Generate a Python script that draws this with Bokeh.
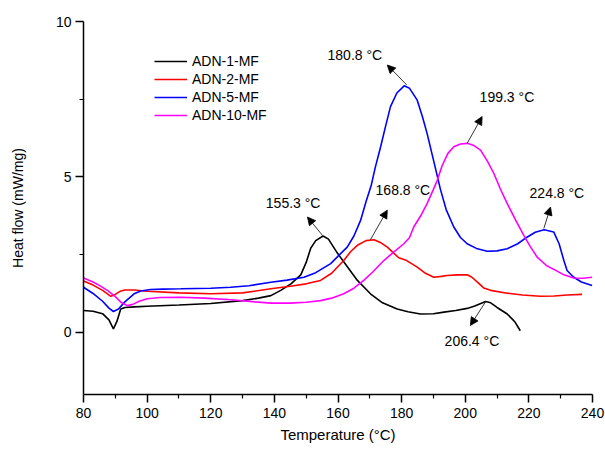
from bokeh.plotting import figure
from bokeh.models import Range1d, FixedTicker, Arrow, NormalHead, Label
from bokeh.embed import file_html
from bokeh.resources import INLINE

FONT = "Liberation Sans"

# ---------------- data ----------------
series_names = ["ADN-1-MF", "ADN-2-MF", "ADN-5-MF", "ADN-10-MF"]
series_colors = ["#000000", "#ff0000", "#0000ff", "#ff00ff"]

adn1_T = [80, 83, 86, 88, 89.4, 90.5, 91.7, 93, 96, 100, 110, 120, 130, 135, 138.9, 142, 145.2,
          148.3, 150, 151.4, 153, 155.3, 157, 159.8, 163, 166.1, 170.2, 174, 178.6, 182, 185.9,
          190, 193.3, 197, 200.6, 203, 206.4, 208, 210, 213.2, 215.5, 217.3]
adn1_v = [0.70, 0.68, 0.60, 0.40, 0.11, 0.35, 0.75, 0.80, 0.82, 0.84, 0.88, 0.93, 1.02, 1.10, 1.18,
          1.35, 1.56, 1.85, 2.25, 2.70, 2.95, 3.10, 3.00, 2.55, 2.10, 1.67, 1.24, 0.95, 0.75, 0.66,
          0.59, 0.60, 0.65, 0.70, 0.77, 0.85, 0.99, 0.95, 0.80, 0.59, 0.35, 0.05]

adn2_T = [80, 83, 86, 88.6, 90, 91.5, 93, 96, 100, 110, 120, 130, 138.9, 145, 150, 154.5, 158,
          161.8, 164, 166.1, 168.8, 171.3, 173.5, 175.5, 177.5, 179.1, 181.2, 183, 184.9, 187.5,
          190.1, 192.5, 194.3, 197.5, 200.6, 202, 204, 205.8, 208, 213.2, 218, 223.6, 228, 232, 236.7]
adn2_v = [1.65, 1.52, 1.35, 1.16, 1.22, 1.32, 1.36, 1.36, 1.32, 1.27, 1.24, 1.27, 1.40, 1.48, 1.56,
          1.67, 1.90, 2.31, 2.60, 2.80, 2.95, 2.98, 2.88, 2.74, 2.55, 2.40, 2.33, 2.22, 2.10, 1.90,
          1.77, 1.80, 1.83, 1.85, 1.85, 1.78, 1.60, 1.43, 1.35, 1.26, 1.20, 1.16, 1.17, 1.20, 1.22]

adn5_T = [80, 83, 86, 88, 89.4, 91, 93, 95.9, 98, 101.1, 105, 110.6, 120, 126.3, 132, 138.9, 144,
          149.3, 153, 157.7, 160.5, 162.9, 165, 167.1, 168.8, 170.5, 171.7, 173.4, 175, 176.5, 178.5,
          180.8, 182.5, 184.9, 186.5, 188.0, 190, 192.2, 194, 196.4, 198.5, 200.6, 203.5, 206.9, 210,
          213.2, 216.5, 219.4, 222, 224.8, 227.8, 229.5, 231.0, 232.0, 234, 236.5, 239.9]
adn5_v = [1.45, 1.25, 1.00, 0.78, 0.67, 0.75, 0.98, 1.24, 1.33, 1.38, 1.39, 1.40, 1.42, 1.45, 1.50,
          1.61, 1.68, 1.77, 1.92, 2.21, 2.50, 2.74, 3.10, 3.60, 4.20, 4.75, 5.30, 5.97, 6.65, 7.26,
          7.70, 7.93, 7.85, 7.47, 6.95, 6.40, 5.55, 4.60, 3.95, 3.39, 3.05, 2.85, 2.70, 2.61, 2.62,
          2.69, 2.85, 3.06, 3.22, 3.30, 3.23, 2.85, 2.31, 1.99, 1.78, 1.62, 1.51]

adn10_T = [80, 83, 85.5, 87.5, 90, 92, 93.8, 95.5, 97.5, 100.1, 104, 110.6, 118, 126.3, 134, 138.9,
           145, 150, 154.5, 158, 161.8, 165, 168.1, 171, 174.4, 177.5, 180.7, 182.5, 183.8, 186, 188,
           190, 191.2, 192.7, 194.5, 196.4, 198.5, 200.6, 202.5, 204.8, 207, 209.0, 211, 213.2, 215.8,
           218.4, 220.5, 222.6, 225.5, 228.9, 231, 234.1, 237, 239.9]
adn10_v = [1.75, 1.62, 1.48, 1.35, 1.15, 0.95, 0.86, 0.90, 1.00, 1.08, 1.12, 1.13, 1.10, 1.05, 0.98,
           0.94, 0.94, 0.97, 1.02, 1.10, 1.24, 1.42, 1.67, 1.95, 2.31, 2.58, 2.85, 3.05, 3.39, 3.75,
           4.14, 4.60, 4.89, 5.35, 5.75, 5.97, 6.06, 6.08, 6.02, 5.86, 5.50, 5.11, 4.62, 4.14, 3.62,
           3.12, 2.75, 2.42, 2.15, 1.97, 1.85, 1.75, 1.74, 1.77]

x_ticks = [80, 100, 120, 140, 160, 180, 200, 220, 240]
x_minor = [90, 110, 130, 150, 170, 190, 210, 230]
y_ticks = [0, 5, 10]
y_minor = [2.5, 7.5]

# peak annotations
ann_text = ["155.3 \u00b0C", "168.8 \u00b0C", "180.8 \u00b0C", "199.3 \u00b0C", "224.8 \u00b0C", "206.4 \u00b0C"]
ann_tail_T = [155.1, 170.2, 181.6, 200.6, 224.7, 206.3]
ann_tail_v = [3.12, 2.98, 7.96, 6.08, 3.34, 0.97]
ann_head_T = [150.4, 175.5, 175.5, 205.3, 226.8, 201.6]
ann_head_v = [3.71, 3.93, 8.60, 6.94, 4.03, 0.22]
ann_lab_T = [145.9, 180.4, 165.3, 213.1, 228.8, 202.1]
ann_lab_v = [4.15, 4.57, 8.93, 7.58, 4.47, -0.27]

# ---------------- figure ----------------
p = figure(width=605, height=450, output_backend="svg", toolbar_location=None,
           x_range=Range1d(80, 240), y_range=Range1d(-2, 10),
           min_border_left=83, min_border_right=13, min_border_top=21, min_border_bottom=56)
p.outline_line_color = None
p.grid.visible = False
p.background_fill_color = "white"
p.border_fill_color = "white"

all_T = [adn1_T, adn2_T, adn5_T, adn10_T]
all_v = [adn1_v, adn2_v, adn5_v, adn10_v]
for name, col, T, v in zip(series_names, series_colors, all_T, all_v):
    p.line(T, v, line_color=col, line_width=1.6, legend_label=name)

p.xaxis.ticker = FixedTicker(ticks=x_ticks, minor_ticks=x_minor)
p.yaxis.ticker = FixedTicker(ticks=y_ticks, minor_ticks=y_minor)
p.xaxis.axis_label = "Temperature (\u00b0C)"
p.yaxis.axis_label = "Heat flow (mW/mg)"
for ax in (p.xaxis, p.yaxis):
    ax.axis_line_width = 1.5
    ax.axis_line_color = "black"
    ax.major_tick_line_width = 1.5
    ax.minor_tick_line_width = 1.2
    ax.major_tick_line_color = "black"
    ax.minor_tick_line_color = "black"
    ax.major_tick_out = 8
    ax.major_tick_in = 0
    ax.minor_tick_out = 4
    ax.minor_tick_in = 0
    ax.major_label_text_font = FONT
    ax.major_label_text_font_size = "14px"
    ax.major_label_text_color = "black"
    ax.axis_label_text_font = FONT
    ax.axis_label_text_font_style = "normal"
    ax.axis_label_text_color = "black"
p.xaxis.axis_label_text_font_size = "15px"
p.yaxis.axis_label_text_font_size = "14px"
p.xaxis.major_label_standoff = 5
p.xaxis.axis_label_standoff = 5
p.yaxis.major_label_standoff = 4
p.yaxis.axis_label_standoff = 27

lg = p.legend[0]
lg.location = (71, 270)
lg.padding = 0
lg.margin = 0
lg.spacing = 0
lg.border_line_alpha = 0
lg.background_fill_alpha = 0
lg.glyph_width = 33
lg.glyph_height = 18
lg.label_height = 18
lg.label_standoff = 5
lg.label_text_font = FONT
lg.label_text_font_size = "14px"
lg.label_text_color = "black"

for i in range(len(ann_text)):
    p.add_layout(Arrow(end=NormalHead(size=8, fill_color="black", line_color="black", line_width=0.8),
                       x_start=ann_tail_T[i], y_start=ann_tail_v[i],
                       x_end=ann_head_T[i], y_end=ann_head_v[i],
                       line_color="black", line_width=0.8))
    p.add_layout(Label(x=ann_lab_T[i], y=ann_lab_v[i], text=ann_text[i],
                       text_align="center", text_baseline="middle",
                       text_font=FONT, text_font_size="14px", text_color="black"))

open("out.html", "w").write(file_html(p, INLINE))
